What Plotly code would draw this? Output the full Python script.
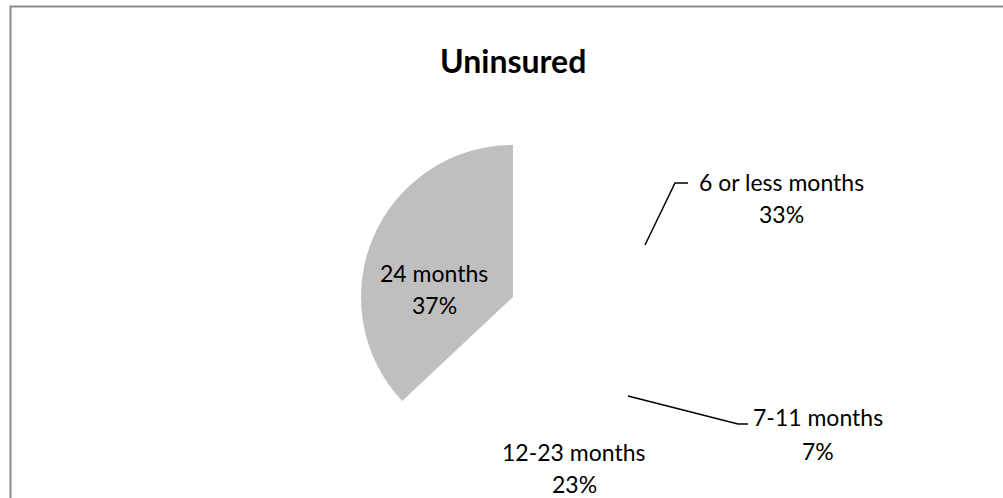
import plotly.graph_objects as go

labels = ["6 or less months", "7-11 months", "12-23 months", "24 months"]
values = [33, 7, 23, 37]
colors = ["#FFFFFF", "#FFFFFF", "#FFFFFF", "#BFBFBF"]
title = "Uninsured"

W, H = 1003, 498
FONT = "Lato"

def px(x):
    return x / W

def py(y):
    return 1 - y / H

cx, cy, r = 513, 297, 152

fig = go.Figure(go.Pie(
    labels=labels, values=values, sort=False, direction="clockwise",
    marker=dict(colors=colors, line=dict(width=0)),
    textinfo="none", showlegend=False,
    domain=dict(x=[px(cx - r), px(cx + r)], y=[py(cy + r), py(cy - r)]),
))

# label positions (pixel centres of the two text lines)
label_pos = {
    "6 or less months": (781, 182, 214),
    "7-11 months": (818, 417, 451),
    "12-23 months": (574, 452, 484),
    "24 months": (434, 273, 305),
}
annotations = []
for lab, val in zip(labels, values):
    x, y1, y2 = label_pos[lab]
    for txt, yy in ((lab, y1), (f"{val}%", y2)):
        annotations.append(dict(
            text=txt, x=px(x), y=py(yy), xref="paper", yref="paper",
            showarrow=False, xanchor="center", yanchor="middle",
            font=dict(family=FONT, size=23, color="#000000"),
        ))
annotations.append(dict(
    text=f"<b>{title}</b>", x=px(513), y=py(61), xref="paper", yref="paper",
    showarrow=False, xanchor="center", yanchor="middle",
    font=dict(family=FONT, size=32, color="#000000"),
))

def leader(points):
    path = "M " + " L ".join(f"{px(a)},{py(b)}" for a, b in points)
    return dict(type="path", path=path, xref="paper", yref="paper",
                line=dict(color="#000000", width=1.5))

shapes = [
    leader([(645, 245), (675, 183), (688, 183)]),
    leader([(628, 396), (738, 424), (748, 424)]),
    dict(type="rect", xref="paper", yref="paper",
         x0=px(10.5), x1=px(1012), y0=py(6.5), y1=py(515),
         line=dict(color="#8C8C8C", width=2), fillcolor="rgba(0,0,0,0)"),
]

fig.update_layout(
    width=W, height=H, margin=dict(l=0, r=0, t=0, b=0),
    paper_bgcolor="#FFFFFF", plot_bgcolor="#FFFFFF",
    annotations=annotations, shapes=shapes,
    font=dict(family=FONT),
)
fig.write_html(
    "out.html",
    config={"displayModeBar": False},
    post_script="document.body.style.margin='0';document.body.style.overflow='hidden';",
)
